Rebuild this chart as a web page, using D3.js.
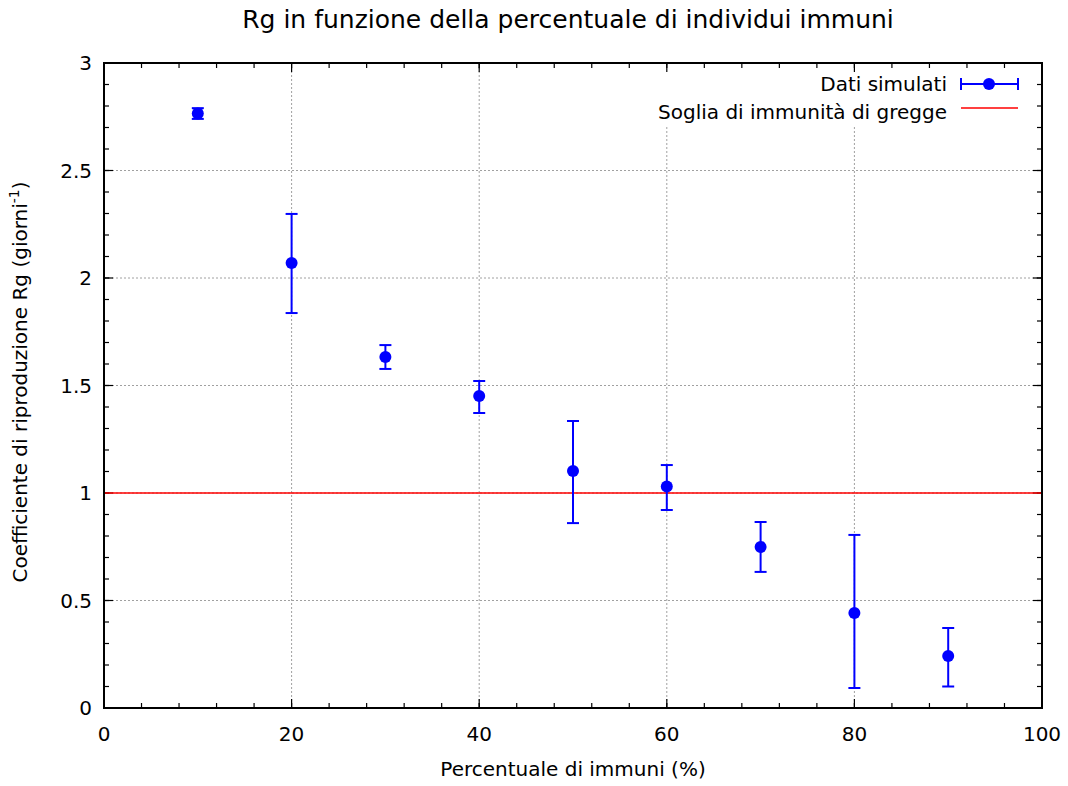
<!DOCTYPE html>
<html>
<head>
<meta charset="utf-8">
<script src="https://cdn.jsdelivr.net/npm/d3@7"></script>
<style>
  body { margin: 0; background: #fff; }
  svg text { font-family: 'DejaVu Sans', Verdana, sans-serif; fill: #000; }
</style>
</head>
<body>
<div id="chart"></div>
<script>
// data
const immuni = [10, 20, 30, 40, 50, 60, 70, 80, 90];
const rg = [2.765, 2.07, 1.633, 1.451, 1.102, 1.030, 0.749, 0.442, 0.242];
const errLow = [2.74, 1.837, 1.577, 1.372, 0.860, 0.921, 0.633, 0.093, 0.100];
const errHigh = [2.79, 2.298, 1.688, 1.521, 1.335, 1.130, 0.865, 0.805, 0.372];
const soglia = 1;
const xTicks = [0, 20, 40, 60, 80, 100];
const yTicks = [0, 0.5, 1, 1.5, 2, 2.5, 3];

const width = 1068, height = 786;
const area = { left: 104, right: 1042, top: 63, bottom: 708 };

const svg = d3.select('#chart').append('svg')
  .attr('width', width).attr('height', height);

const xScale = d3.scaleLinear().domain([0, 100]).range([area.left, area.right]);
const yScale = d3.scaleLinear().domain([0, 3]).range([area.bottom, area.top]);

// grid
const grid = svg.append('g').attr('stroke', '#a0a0a0').attr('stroke-width', 1)
  .attr('stroke-dasharray', '2,2');
grid.selectAll('.gx').data(xTicks.filter(d => d > 0 && d < 100)).join('line')
  .attr('x1', d => xScale(d)).attr('x2', d => xScale(d))
  .attr('y1', area.top).attr('y2', area.bottom);
grid.selectAll('.gy').data(yTicks.filter(d => d > 0 && d < 3)).join('line')
  .attr('y1', d => yScale(d)).attr('y2', d => yScale(d))
  .attr('x1', area.left).attr('x2', area.right);

// legend background hides the grid behind it
svg.append('rect').attr('x', 640).attr('y', 65).attr('width', 400).attr('height', 60)
  .attr('fill', '#fff');

// ticks (major + minor, mirrored like gnuplot)
const axes = svg.append('g').attr('stroke', '#000').attr('stroke-width', 1.2);
const xMinor = d3.range(0, 100.1, 4);
const yMinor = d3.range(0, 3.001, 0.1);
function tickLines(vals, len, isX) {
  vals.forEach(v => {
    if (isX) {
      const x = xScale(v);
      axes.append('line').attr('x1', x).attr('x2', x).attr('y1', area.bottom).attr('y2', area.bottom - len);
      axes.append('line').attr('x1', x).attr('x2', x).attr('y1', area.top).attr('y2', area.top + len);
    } else {
      const y = yScale(v);
      axes.append('line').attr('y1', y).attr('y2', y).attr('x1', area.left).attr('x2', area.left + len);
      axes.append('line').attr('y1', y).attr('y2', y).attr('x1', area.right).attr('x2', area.right - len);
    }
  });
}
tickLines(xMinor, 5, true);
tickLines(xTicks, 9, true);
tickLines(yMinor, 5, false);
tickLines(yTicks, 9, false);

// tick labels
svg.append('g').selectAll('text').data(xTicks).join('text')
  .attr('x', d => xScale(d)).attr('y', area.bottom + 33)
  .attr('text-anchor', 'middle').attr('font-size', 20)
  .text(d => d);
svg.append('g').selectAll('text').data(yTicks).join('text')
  .attr('x', area.left - 12).attr('y', d => yScale(d) + 7)
  .attr('text-anchor', 'end').attr('font-size', 20)
  .text(d => d);

// threshold line
svg.append('line')
  .attr('x1', area.left).attr('x2', area.right)
  .attr('y1', yScale(soglia)).attr('y2', yScale(soglia))
  .attr('stroke', '#ff0000').attr('stroke-width', 1.5);

// error bars + points
const blue = '#0000ff';
const pts = svg.append('g');
immuni.forEach((x, i) => {
  const cx = xScale(x);
  const g = pts.append('g').attr('stroke', blue).attr('stroke-width', 2);
  g.append('line').attr('x1', cx).attr('x2', cx).attr('y1', yScale(errLow[i])).attr('y2', yScale(errHigh[i]));
  g.append('line').attr('x1', cx - 6).attr('x2', cx + 6).attr('y1', yScale(errLow[i])).attr('y2', yScale(errLow[i]));
  g.append('line').attr('x1', cx - 6).attr('x2', cx + 6).attr('y1', yScale(errHigh[i])).attr('y2', yScale(errHigh[i]));
  pts.append('circle').attr('cx', cx).attr('cy', yScale(rg[i])).attr('r', 6).attr('fill', blue);
});

// frame
svg.append('rect')
  .attr('x', area.left).attr('y', area.top)
  .attr('width', area.right - area.left).attr('height', area.bottom - area.top)
  .attr('fill', 'none').attr('stroke', '#000').attr('stroke-width', 2);

// legend
const leg = svg.append('g');
leg.append('text').attr('x', 947).attr('y', 91).attr('text-anchor', 'end')
  .attr('font-size', 20).text('Dati simulati');
const lg = leg.append('g').attr('stroke', blue).attr('stroke-width', 2);
lg.append('line').attr('x1', 961).attr('x2', 1018).attr('y1', 84).attr('y2', 84);
lg.append('line').attr('x1', 961).attr('x2', 961).attr('y1', 78).attr('y2', 90);
lg.append('line').attr('x1', 1018).attr('x2', 1018).attr('y1', 78).attr('y2', 90);
leg.append('circle').attr('cx', 989).attr('cy', 84).attr('r', 6).attr('fill', blue);
leg.append('text').attr('x', 947).attr('y', 119).attr('text-anchor', 'end')
  .attr('font-size', 20).text('Soglia di immunità di gregge');
leg.append('line').attr('x1', 961).attr('x2', 1018).attr('y1', 108).attr('y2', 108)
  .attr('stroke', '#ff0000').attr('stroke-width', 1.5);

// title and axis labels
svg.append('text').attr('x', 568).attr('y', 28).attr('text-anchor', 'middle')
  .attr('font-size', 25).text('Rg in funzione della percentuale di individui immuni');
svg.append('text').attr('x', 573).attr('y', 776).attr('text-anchor', 'middle')
  .attr('font-size', 20).text('Percentuale di immuni (%)');
const yl = svg.append('text').attr('transform', 'translate(27,382) rotate(-90)')
  .attr('text-anchor', 'middle').attr('font-size', 20);
yl.append('tspan').text('Coefficiente di riproduzione Rg (giorni');
yl.append('tspan').attr('dy', -8).attr('font-size', 14).text('-1');
yl.append('tspan').attr('dy', 8).text(')');
</script>
</body>
</html>
